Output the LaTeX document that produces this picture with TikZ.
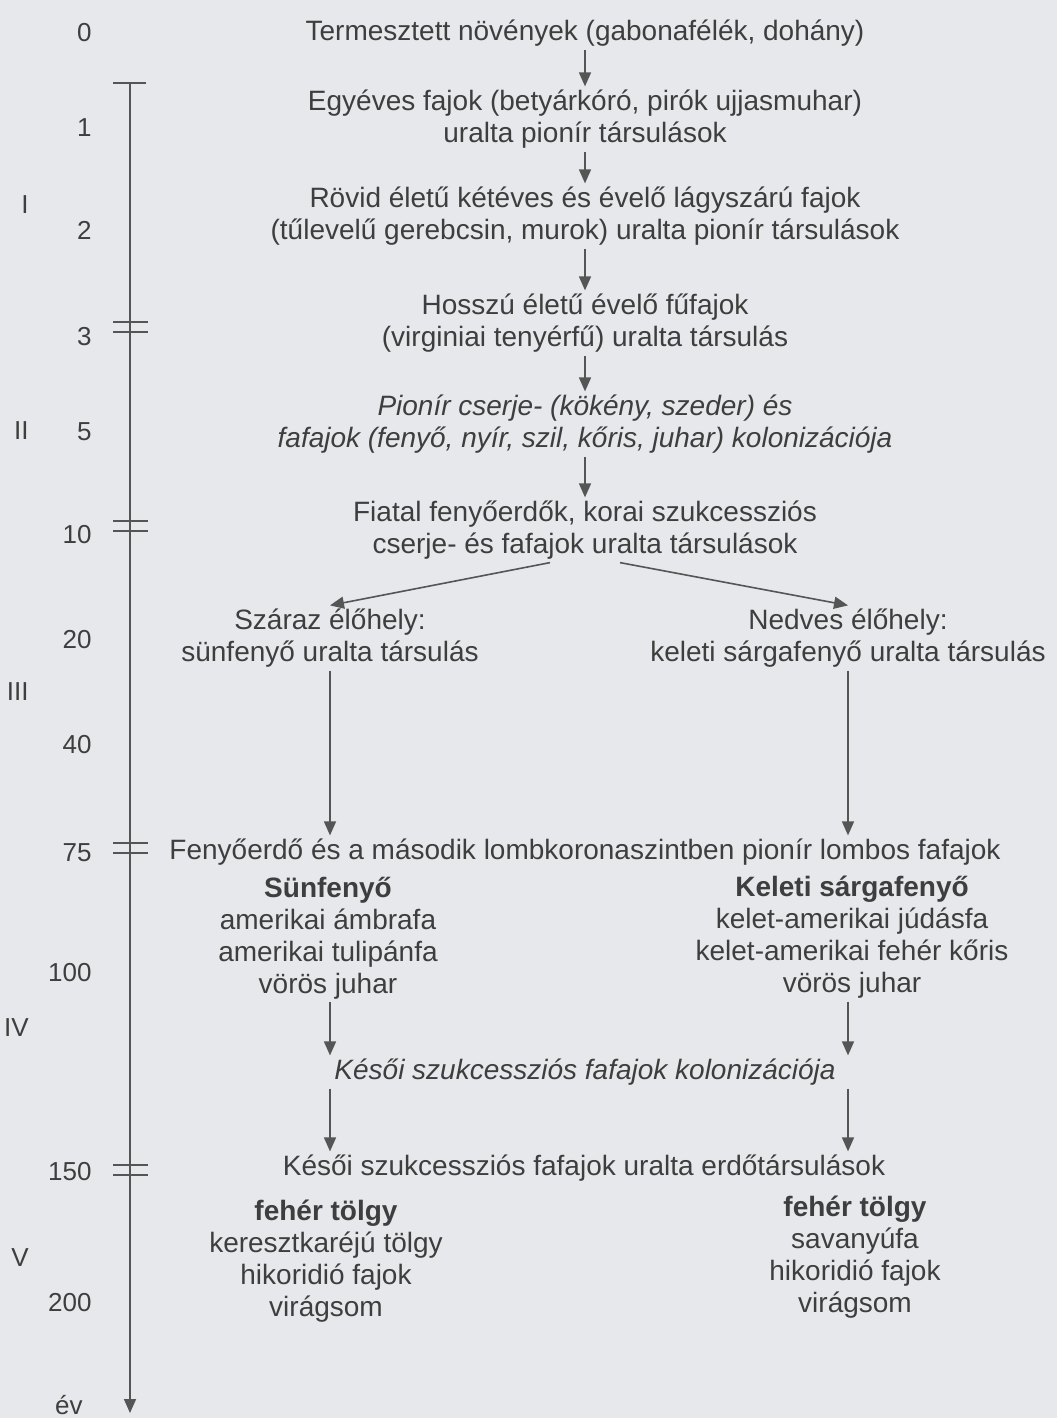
\documentclass[tikz,border=0pt]{standalone}
\usepackage{fontspec}
\setmainfont{Liberation Sans}
\usetikzlibrary{arrows.meta,positioning,calc}
\definecolor{paper}{HTML}{E7E8EB}
\definecolor{ink}{HTML}{3E3E3E}
\definecolor{rule}{HTML}{555555}

\begin{document}
\begin{tikzpicture}[
  x=0.5pt, y=-0.5pt,
  every node/.style={font=\fontsize{14}{16}\selectfont, text=ink},
  stage/.style={align=center, inner sep=1.5pt},
  yr/.style={anchor=east, inner sep=0pt, font=\fontsize{13}{15}\selectfont},
  era/.style={anchor=east, inner sep=0pt, font=\fontsize{13}{15}\selectfont},
  flow/.style={-{Triangle[length=7pt,width=6pt]}, draw=rule, line width=0.8pt},
  tick/.style={draw=rule, line width=0.8pt}
]
  % paper, 1057 x 1418 px
  \fill[paper] (0,0) rectangle (1057,1418);

  % Time axis (years) on the left
  \coordinate (axtop) at (130,83);
  \coordinate (axend) at (130,1413);
  \draw[flow] (axtop) -- (axend);
  \draw[tick] (113,83) -- (146,83);
  % double ticks = stage borders
  \foreach \y in {327,526,848,1170}{
    \draw[tick] (113,\y-5) -- (148,\y-5);
    \draw[tick] (113,\y+5) -- (148,\y+5);
  }
  \foreach \v/\y in {0/33,1/128,2/230,3/337,5/432,10/535,20/640,40/745,75/853,100/973,150/1172,200/1303}
    \node[yr] (yr\v) at (92,\y) {\v};
  \node[yr] (yrunit) at (83,1405) {év};
  \foreach \r/\y in {I/205,II/431,III/692,IV/1028,V/1258}
    \node[era] (era\r) at (29,\y) {\r};

  % Main sequence
  \node[stage] (crop)     at (585,33)  {Termesztett növények (gabonafélék, dohány)};
  \node[stage] (annual)   at (585,119) {Egyéves fajok (betyárkóró, pirók ujjasmuhar)\\uralta pionír társulások};
  \node[stage] (biennial) at (585,216) {Rövid életű kétéves és évelő lágyszárú fajok\\(tűlevelű gerebcsin, murok) uralta pionír társulások};
  \node[stage] (grass)    at (585,323) {Hosszú életű évelő fűfajok\\(virginiai tenyérfű) uralta társulás};
  \node[stage, font=\fontsize{14}{16}\selectfont\itshape] (shrub) at (585,424)
    {Pionír cserje- (kökény, szeder) és\\fafajok (fenyő, nyír, szil, kőris, juhar) kolonizációja};
  \node[stage] (youngpine) at (585,530) {Fiatal fenyőerdők, korai szukcessziós\\cserje- és fafajok uralta társulások};

  \draw[flow] (crop) -- (annual);
  \draw[flow] (annual) -- (biennial);
  \draw[flow] (biennial) -- (grass);
  \draw[flow] (grass) -- (shrub);
  \draw[flow] (shrub) -- (youngpine);

  % Two habitats
  \node[stage] (dry) at (330,638) {Száraz élőhely:\\sünfenyő uralta társulás};
  \node[stage] (wet) at (848,638) {Nedves élőhely:\\keleti sárgafenyő uralta társulás};
  \draw[flow] ($(youngpine.south)+(-35,0)$) -- (dry.north);
  \draw[flow] ($(youngpine.south)+(35,0)$) -- (wet.north);

  \node[stage] (pinemix) at (585,852) {Fenyőerdő és a második lombkoronaszintben pionír lombos fafajok};
  \draw[flow] (dry.south) -- (dry.south |- pinemix.north);
  \draw[flow] (wet.south) -- (wet.south |- pinemix.north);

  \node[stage] (drytrees) at (328,938) {\textbf{Sünfenyő}\\amerikai ámbrafa\\amerikai tulipánfa\\vörös juhar};
  \node[stage] (wettrees) at (852,937) {\textbf{Keleti sárgafenyő}\\kelet-amerikai júdásfa\\kelet-amerikai fehér kőris\\vörös juhar};

  \node[stage, font=\fontsize{14}{16}\selectfont\itshape] (latecol) at (585,1072) {Késői szukcessziós fafajok kolonizációja};
  \draw[flow] (drytrees.south -| dry.south) -- (latecol.north -| dry.south);
  \draw[flow] (wettrees.south -| wet.south) -- (latecol.north -| wet.south);

  \node[stage] (lateforest) at (584,1168) {Késői szukcessziós fafajok uralta erdőtársulások};
  \draw[flow] (latecol.south -| dry.south) -- (lateforest.north -| dry.south);
  \draw[flow] (latecol.south -| wet.south) -- (lateforest.north -| wet.south);

  \node[stage] (dryoak) at (326,1261) {\textbf{fehér tölgy}\\keresztkaréjú tölgy\\hikoridió fajok\\virágsom};
  \node[stage] (wetoak) at (855,1257) {\textbf{fehér tölgy}\\savanyúfa\\hikoridió fajok\\virágsom};
\end{tikzpicture}
\end{document}
